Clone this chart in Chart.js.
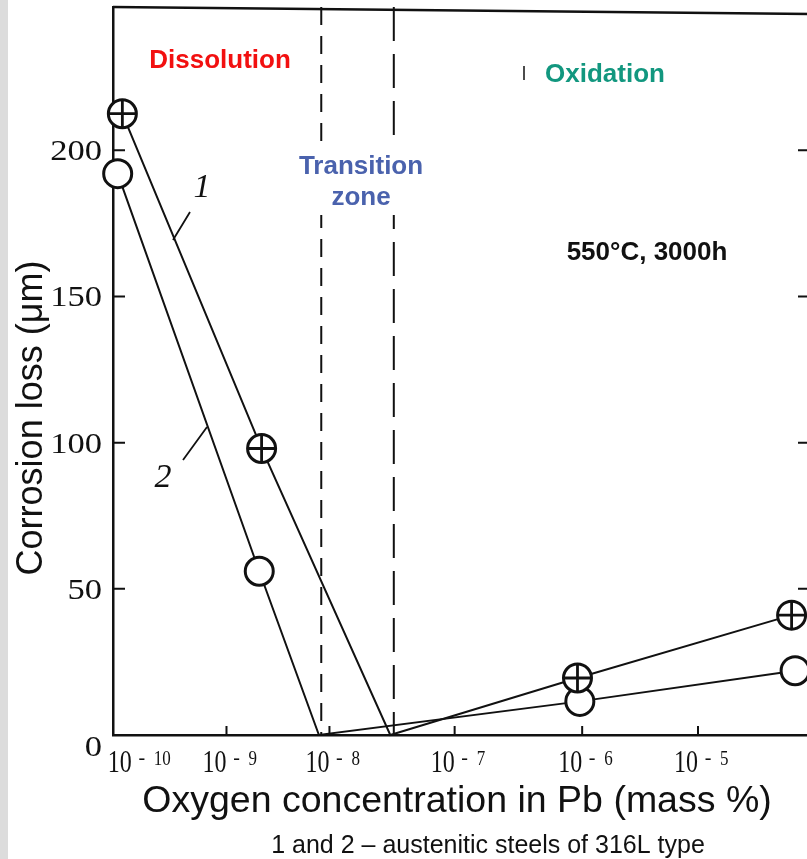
<!DOCTYPE html>
<html>
<head>
<meta charset="utf-8">
<script src="https://cdn.jsdelivr.net/npm/chart.js@4.4.0/dist/chart.umd.min.js"></script>
<style>
  html, body { margin: 0; padding: 0; background: #fff; overflow: hidden; }
  #wrap { position: relative; width: 820px; height: 859px; }
</style>
</head>
<body>
<div id="wrap"><canvas id="chart" width="820" height="859"></canvas></div>
<script>
// x is in decades of the oxygen concentration, read along the (uneven, scanned) log axis
const xTickPos = [-9.84, -9.03, -8.15, -7.08, -5.99, -5.0];
const xTickExp = ["10", "9", "8", "7", "6", "5"];
const yTicks = [0, 50, 100, 150, 200];

// steel 1 (crossed circles) and steel 2 (open circles), corrosion loss in µm
const steel1X = [-9.92, -8.73, -7.63, -6.03, -4.2];
const steel1Y = [212.5, 98, 0, 19.5, 41];
const steel2X = [-9.96, -8.75, -8.24, -6.01, -4.17];
const steel2Y = [192, 56, 0, 11.5, 22];

// dashed borders of the transition zone
const zoneEdges = [-8.22, -7.6];

const serif = '"Liberation Serif", "DejaVu Serif", serif';
const sans = '"Liberation Sans", Arial, sans-serif';
const ink = "#111";

function toPoints(xs, ys) {
  return xs.map((x, i) => ({ x: x, y: ys[i] }));
}

function markerRadius(ys) {
  // the points where a curve touches zero carry no marker
  return ys.map(v => (v === 0 ? 0 : 14));
}

function label(ctx, str, x, y, font, color, align, sx) {
  ctx.save();
  ctx.font = font;
  ctx.fillStyle = color;
  ctx.textAlign = align || "center";
  ctx.textBaseline = "alphabetic";
  ctx.translate(x, y);
  if (sx) ctx.scale(sx, 1);
  ctx.fillText(str, 0, 0);
  ctx.restore();
}

const paper = {
  id: "paper",
  beforeDraw(chart) {
    const ctx = chart.ctx;
    ctx.save();
    ctx.fillStyle = "#fff";
    ctx.fillRect(0, 0, chart.width, chart.height);
    ctx.fillStyle = "#dcdcdc";
    ctx.fillRect(0, 0, 8, chart.height);
    ctx.restore();
  },
  beforeDatasetsDraw(chart) {
    const { ctx, chartArea: a } = chart;
    const x = chart.scales.x;
    const y = chart.scales.y;
    ctx.save();
    ctx.strokeStyle = ink;
    ctx.lineWidth = 2.5;

    // top and right side of the frame
    ctx.beginPath();
    ctx.moveTo(a.left, a.top);
    ctx.lineTo(a.right, a.top + 7);
    ctx.lineTo(a.right, a.bottom);
    ctx.stroke();

    // ticks point inwards
    ctx.lineWidth = 2;
    ctx.beginPath();
    yTicks.forEach(v => {
      if (v === 0) return;
      const py = y.getPixelForValue(v);
      ctx.moveTo(a.left, py);
      ctx.lineTo(a.left + 12, py);
      ctx.moveTo(a.right, py);
      ctx.lineTo(a.right - 12, py);
    });
    xTickPos.slice(1).forEach(v => {
      const px = x.getPixelForValue(v);
      ctx.moveTo(px, a.bottom);
      ctx.lineTo(px, a.bottom - 9);
    });
    ctx.stroke();

    // transition zone borders
    [[zoneEdges[0], [18, 11]], [zoneEdges[1], [34, 13]]].forEach(([v, dash]) => {
      const px = x.getPixelForValue(v);
      ctx.setLineDash(dash);
      ctx.beginPath();
      ctx.moveTo(px, a.top);
      ctx.lineTo(px, a.bottom);
      ctx.stroke();
    });
    ctx.setLineDash([]);

    // stray mark next to "Oxidation"
    ctx.lineWidth = 1.5;
    ctx.beginPath();
    ctx.moveTo(524, 66);
    ctx.lineTo(524, 80);
    ctx.stroke();

    // tick labels
    yTicks.forEach(v => {
      const py = y.getPixelForValue(v);
      label(ctx, String(v), a.left - 11, py + (v === 0 ? 21 : 10), "30px " + serif, ink, "right", 1.15);
    });
    xTickPos.forEach((v, i) => {
      const px = x.getPixelForValue(v);
      label(ctx, "10", px, a.bottom + 37, "32px " + serif, ink, "right", 0.75);
      label(ctx, "-", px + 10, a.bottom + 29, "20px " + serif, ink, "center");
      label(ctx, xTickExp[i], px + 22, a.bottom + 30, "20px " + serif, ink, "left", 0.85);
    });

    // axis titles and note
    ctx.save();
    ctx.translate(42, 418);
    ctx.rotate(-Math.PI / 2);
    label(ctx, "Corrosion loss (\u03bcm)", 0, 0, "36px " + sans, ink, "center");
    ctx.restore();
    label(ctx, "Oxygen concentration in Pb (mass %)", 457, 812, "37.5px " + sans, ink, "center");
    label(ctx, "1 and 2 \u2013 austenitic steels of 316L type", 488, 853, "25px " + sans, ink, "center");

    // regime labels
    label(ctx, "Dissolution", 220, 68, "bold 26px " + sans, "#f21010", "center");
    label(ctx, "Oxidation", 605, 82, "bold 26px " + sans, "#12977f", "center");
    label(ctx, "550\u00b0C, 3000h", 647, 260, "bold 26px " + sans, ink, "center");
    ctx.fillStyle = "#fff";
    ctx.fillRect(295, 145, 134, 70);
    label(ctx, "Transition", 361, 174, "bold 26px " + sans, "#4a62ad", "center");
    label(ctx, "zone", 361, 205, "bold 26px " + sans, "#4a62ad", "center");

    // curve numbers with leaders
    ctx.lineWidth = 1.8;
    ctx.beginPath();
    ctx.moveTo(190, 212);
    ctx.lineTo(173, 240);
    ctx.moveTo(183, 460);
    ctx.lineTo(207, 427);
    ctx.stroke();
    label(ctx, "1", 202, 197, "italic 34px " + serif, ink, "center");
    label(ctx, "2", 163, 487, "italic 34px " + serif, ink, "center");
    ctx.restore();
  }
};

new Chart(document.getElementById("chart"), {
  type: "scatter",
  data: {
    datasets: [
      {
        label: "1",
        data: toPoints(steel1X, steel1Y),
        showLine: true,
        borderColor: ink,
        borderWidth: 2,
        pointRadius: markerRadius(steel1Y),
        pointBorderWidth: 3,
        pointBackgroundColor: "#fff",
        pointBorderColor: ink,
        clip: false,
        order: 2,
      },
      {
        label: "1 cross",
        data: toPoints(steel1X, steel1Y),
        showLine: false,
        pointStyle: "cross",
        pointRadius: markerRadius(steel1Y),
        pointBorderWidth: 2.8,
        pointBorderColor: ink,
        clip: false,
        order: 1,
      },
      {
        label: "2",
        data: toPoints(steel2X, steel2Y),
        showLine: true,
        borderColor: ink,
        borderWidth: 2,
        pointRadius: markerRadius(steel2Y),
        pointBorderWidth: 3,
        pointBackgroundColor: "#fff",
        pointBorderColor: ink,
        clip: false,
        order: 3,
      },
    ],
  },
  options: {
    responsive: false,
    animation: false,
    events: [],
    layout: { autoPadding: false, padding: { left: 113, top: 7, right: 10, bottom: 124 } },
    scales: {
      x: {
        type: "linear",
        min: -10,
        max: -10 + 697 / 117,
        grid: { display: false },
        ticks: { display: false },
        border: { display: true, color: ink, width: 2.5 },
        afterFit: s => { s.height = 0; },
      },
      y: {
        type: "linear",
        min: 0,
        max: 249,
        grid: { display: false },
        ticks: { display: false },
        border: { display: true, color: ink, width: 2.5 },
        afterFit: s => { s.width = 0; },
      },
    },
    plugins: {
      legend: { display: false },
      title: { display: false },
      tooltip: { enabled: false },
    },
  },
  plugins: [paper],
});
</script>
</body>
</html>
